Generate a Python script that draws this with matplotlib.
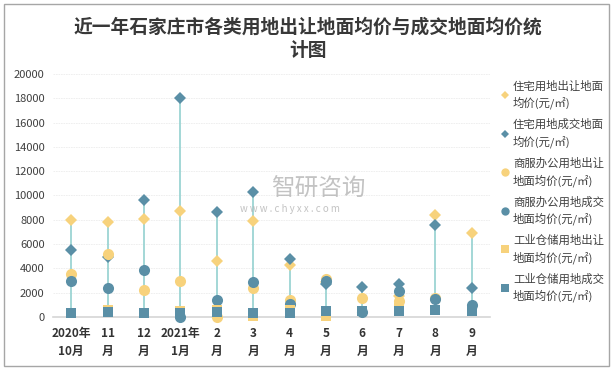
import numpy as np
import matplotlib.pyplot as plt
from matplotlib.lines import Line2D
from matplotlib.patches import Rectangle

plt.rcParams['font.family'] = ['Noto Sans CJK SC', 'DejaVu Sans']

# months on the x axis
months = ["2020年\n10月", "11\n月", "12\n月", "2021年\n1月", "2\n月", "3\n月",
          "4\n月", "5\n月", "6\n月", "7\n月", "8\n月", "9\n月"]

# values (元/㎡)
res_sell = [8000, 7800, 8100, 8700, 4600, 7900, 4250, 2900, np.nan, 1700, 8400, 6900]
res_deal = [5500, 4900, 9650, 18000, 8650, 10300, 4800, 2700, 2450, 2750, 7600, 2400]
com_sell = [3500, 5150, 2200, 3000, 0, 2350, 1400, 3150, 1600, 1300, 1600, np.nan]
com_deal = [3000, 2350, 3900, 0, 1400, 2850, 1050, 3000, 400, 2100, 1450, 1000]
ind_sell = [350, 600, 350, 500, 550, 50, 600, 100, np.nan, 700, 600, 500]
ind_deal = [350, 450, 350, 300, 450, 300, 350, 500, 500, 500, 600, 500]

labels = ["住宅用地出让地面\n均价(元/㎡)", "住宅用地成交地面\n均价(元/㎡)",
          "商服办公用地出让\n地面均价(元/㎡)", "商服办公用地成交\n地面均价(元/㎡)",
          "工业仓储用地出让\n地面均价(元/㎡)", "工业仓储用地成交\n地面均价(元/㎡)"]

yellow = "#F7D27C"
teal = "#5A8FA6"
stem = "#93D1D0"

fig = plt.figure(figsize=(6.16, 3.71), dpi=100)
ax = fig.add_axes([0.086, 0.1456, 0.709, 0.6549])

x = np.arange(len(months))
all_vals = np.array([res_sell, res_deal, com_sell, com_deal, ind_sell, ind_deal], dtype=float)
lo = np.nanmin(all_vals, axis=0)
hi = np.nanmax(all_vals, axis=0)
ax.vlines(x, lo, hi, color=stem, lw=1.2, zorder=2)

series = [
    (res_sell, "D", yellow, 6.5),
    (res_deal, "D", teal, 6.5),
    (com_sell, "o", yellow, 8),
    (com_deal, "o", teal, 8),
    (ind_sell, "s", yellow, 7),
    (ind_deal, "s", teal, 7),
]
handles = []
for i, (vals, mk, col, ms) in enumerate(series):
    ax.plot(x, vals, linestyle="none", marker=mk, color=col, ms=ms,
            markeredgewidth=0, zorder=3 + i, clip_on=False)
    handles.append(Line2D([], [], linestyle="none", marker=mk, color=col,
                          ms={"D": 4, "o": 6, "s": 6}[mk], markeredgewidth=0))

ax.set_xlim(-0.5, len(months) - 0.5)
ax.set_ylim(0, 20000)
ax.set_yticks(range(0, 20001, 2000))
ax.tick_params(axis="y", length=0, labelsize=8, colors="#404040", pad=6)
ax.set_xticks(x)
ax.set_xticklabels(months, fontsize=8.5, fontweight="bold", color="#333333",
                   linespacing=1.5)
ax.tick_params(axis="x", length=0, pad=7)
ax.grid(axis="y", color="#ececec", lw=0.6, linestyle=(0, (2, 1)))
ax.set_axisbelow(True)
for side in ["top", "right", "left"]:
    ax.spines[side].set_visible(False)
ax.spines["bottom"].set_color("#d6d6d6")
ax.spines["bottom"].set_linewidth(1.2)

fig.text(0.5, 0.895, "近一年石家庄市各类用地出让地面均价与成交地面均价统\n计图",
         ha="center", va="center", fontsize=13.5, fontweight="bold",
         color="#383838", linespacing=1.3)

leg = fig.legend(handles, labels, loc="upper left", bbox_to_anchor=(0.806, 0.795),
                 frameon=False, fontsize=8.2, labelcolor="#404040", handlelength=0.7,
                 handletextpad=0.35, labelspacing=0.85, borderaxespad=0)
for t in leg.get_texts():
    t.set_linespacing(1.5)

# watermark
fig.text(0.44, 0.49, "智研咨询", fontsize=17, color="#b4b4b4", alpha=0.8,
         ha="left", va="center")
fig.text(0.39, 0.437, "w w w . c h y x x . c o m", fontsize=7, color="#b4b4b4",
         alpha=0.8, ha="left", va="center")

fig.patches.append(Rectangle((0.006, 0.014), 0.983, 0.975, transform=fig.transFigure,
                             fill=False, edgecolor="#a6a6a6", lw=1.0))

fig.savefig("out.png", dpi=100)
